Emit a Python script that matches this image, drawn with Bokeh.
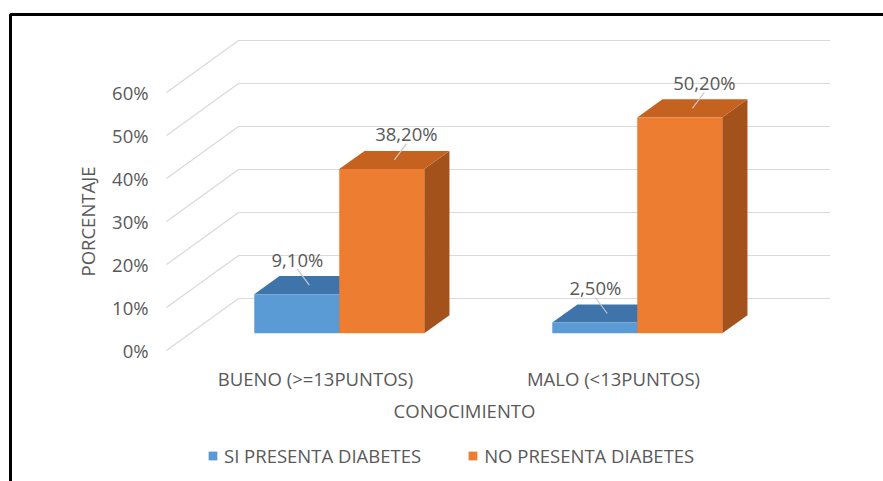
import math
from bokeh.plotting import figure
from bokeh.models import Range1d, Legend, LegendItem
from bokeh.core.properties import value
from bokeh.embed import file_html
from bokeh.resources import INLINE

# ---- data ----
categories = ["BUENO (>=13PUNTOS)", "MALO (<13PUNTOS)"]
series_names = ["SI PRESENTA DIABETES", "NO PRESENTA DIABETES"]
si_presenta = [9.1, 2.5]      # %
no_presenta = [38.2, 50.2]    # %
y_ticks = [0, 10, 20, 30, 40, 50, 60]
y_tick_labels = ["0%", "10%", "20%", "30%", "40%", "50%", "60%"]
y_title = "PORCENTAJE"
x_title = "CONOCIMIENTO"

# ---- layout / style ----
W, H = 883, 481
PX_PER_CAT = 298.0          # horizontal pixels per category
PX_PER_PCT = 4.3            # vertical pixels per percentage point
FLOOR_LEFT_PX = 166         # screen x of the front-left floor corner
ZERO_PX = 350               # screen y of 0% on the front plane
DEPTH_X = 72 / PX_PER_CAT   # oblique depth vector (data units)
DEPTH_Y = 52 / PX_PER_PCT
BAR_W = 85 / PX_PER_CAT
T_FRONT, T_BACK = 0.33, 0.68  # bar depth inside the floor

TEXT = "#595959"
FONT_NAME = "Open Sans"
FONT = value(FONT_NAME)
FS = "18.5px"

fills = {
    "front": ["#5B9BD5", "#ED7D31"],
    "top": ["#3F74AA", "#C6621F"],
    "side": ["#2F5F8E", "#A3521B"],
}


def X(px):
    return (px - FLOOR_LEFT_PX) / PX_PER_CAT


def Y(py):
    return (ZERO_PX - py) / PX_PER_PCT


p = figure(width=W, height=H, min_border=0, toolbar_location=None,
           output_backend="svg", x_range=Range1d(X(0), X(W)),
           y_range=Range1d(Y(H), Y(0)), x_axis_location=None,
           y_axis_location=None, outline_line_color=None,
           background_fill_color="white", border_fill_color="white")
p.grid.visible = False

n_cat = len(categories)

# back-wall and floor gridlines (oblique from the front plane to the back wall)
p.multi_line(xs=[[0, DEPTH_X, n_cat + DEPTH_X - 0.015] for _ in y_ticks],
             ys=[[v, v + DEPTH_Y, v + DEPTH_Y] for v in y_ticks],
             line_color="#d9d9d9", line_width=1.2)

# y tick labels on the front plane
p.text(x=[X(148)] * len(y_ticks), y=y_ticks, text=y_tick_labels,
       text_align="right", text_baseline="middle", text_font=FONT,
       text_font_size=FS, text_color=TEXT)

# 3D bars
legend_items = []
series_values = [si_presenta, no_presenta]
for s, vals in enumerate(series_values):
    fx0, fx1, tops = [], [], []
    top_xs, top_ys, side_xs, side_ys = [], [], [], []
    for i, v in enumerate(vals):
        c = i + 0.5
        x0 = c - BAR_W + s * BAR_W
        x1 = x0 + BAR_W
        ox0, oy0 = T_FRONT * DEPTH_X, T_FRONT * DEPTH_Y
        ox1, oy1 = T_BACK * DEPTH_X, T_BACK * DEPTH_Y
        fx0.append(x0 + ox0)
        fx1.append(x1 + ox0)
        tops.append(v + oy0)
        top_xs.append([x0 + ox0, x1 + ox0, x1 + ox1, x0 + ox1])
        top_ys.append([v + oy0, v + oy0, v + oy1, v + oy1])
        side_xs.append([x1 + ox0, x1 + ox1, x1 + ox1, x1 + ox0])
        side_ys.append([oy0, oy1, v + oy1, v + oy0])
    p.patches(side_xs, side_ys, fill_color=fills["side"][s], line_color=None)
    p.patches(top_xs, top_ys, fill_color=fills["top"][s], line_color=None)
    r = p.quad(left=fx0, right=fx1, bottom=[T_FRONT * DEPTH_Y] * len(vals),
               top=tops, fill_color=fills["front"][s], line_color=None)
    legend_items.append(LegendItem(label=series_names[s], renderers=[r]))

# value labels with short leader lines, nudged away from the pair's centre
LABEL_UP = 26 / PX_PER_PCT
LEADER_UP = 16 / PX_PER_PCT
NUDGE = 12 / PX_PER_CAT
mid_t = (T_FRONT + T_BACK) / 2
for s, vals in enumerate(series_values):
    cx, cy, lx, labels = [], [], [], []
    for i, v in enumerate(vals):
        c = i + 0.5
        x0 = c - BAR_W + s * BAR_W
        tx = x0 + BAR_W / 2 + mid_t * DEPTH_X
        cx.append(tx)
        cy.append(v + mid_t * DEPTH_Y)
        lx.append(tx + (2 * s - 1) * NUDGE)
        labels.append(f"{v:.2f}%".replace(".", ","))
    p.segment(x0=cx, y0=cy, x1=lx, y1=[y + LEADER_UP for y in cy],
              line_color="#c8c8c8", line_width=1.2)
    p.text(x=lx, y=[y + LABEL_UP for y in cy], text=labels,
           text_align="center", text_baseline="middle", text_font=FONT,
           text_font_size=FS, text_color=TEXT)

# category labels
p.text(x=[i + 0.5 for i in range(n_cat)],
       y=[Y(378)] * n_cat, text=categories, text_align="center",
       text_baseline="middle", text_font=FONT, text_font_size=FS,
       text_color=TEXT)

# axis titles
p.text(x=[n_cat / 2], y=[Y(410)], text=[x_title],
       text_align="center", text_baseline="middle", text_font=FONT,
       text_font_size=FS, text_color=TEXT)
p.text(x=[X(87)], y=[(y_ticks[0] + y_ticks[-1]) / 2], text=[y_title],
       angle=math.pi / 2, text_align="center", text_baseline="middle",
       text_font=FONT, text_font_size=FS, text_color=TEXT)

# chart border (top and left edges)
p.line([X(10), X(10), X(W)], [Y(H), Y(14), Y(14)], line_color="black",
       line_width=3)

legend = Legend(items=legend_items, orientation="horizontal",
                location=(207, 13), glyph_width=11, glyph_height=11,
                label_standoff=6, spacing=46, padding=0, margin=0,
                border_line_alpha=0, background_fill_alpha=0,
                label_text_font=FONT_NAME, label_text_font_size=FS,
                label_text_color=TEXT)
p.add_layout(legend)

open("out.html", "w").write(file_html(p, INLINE))
